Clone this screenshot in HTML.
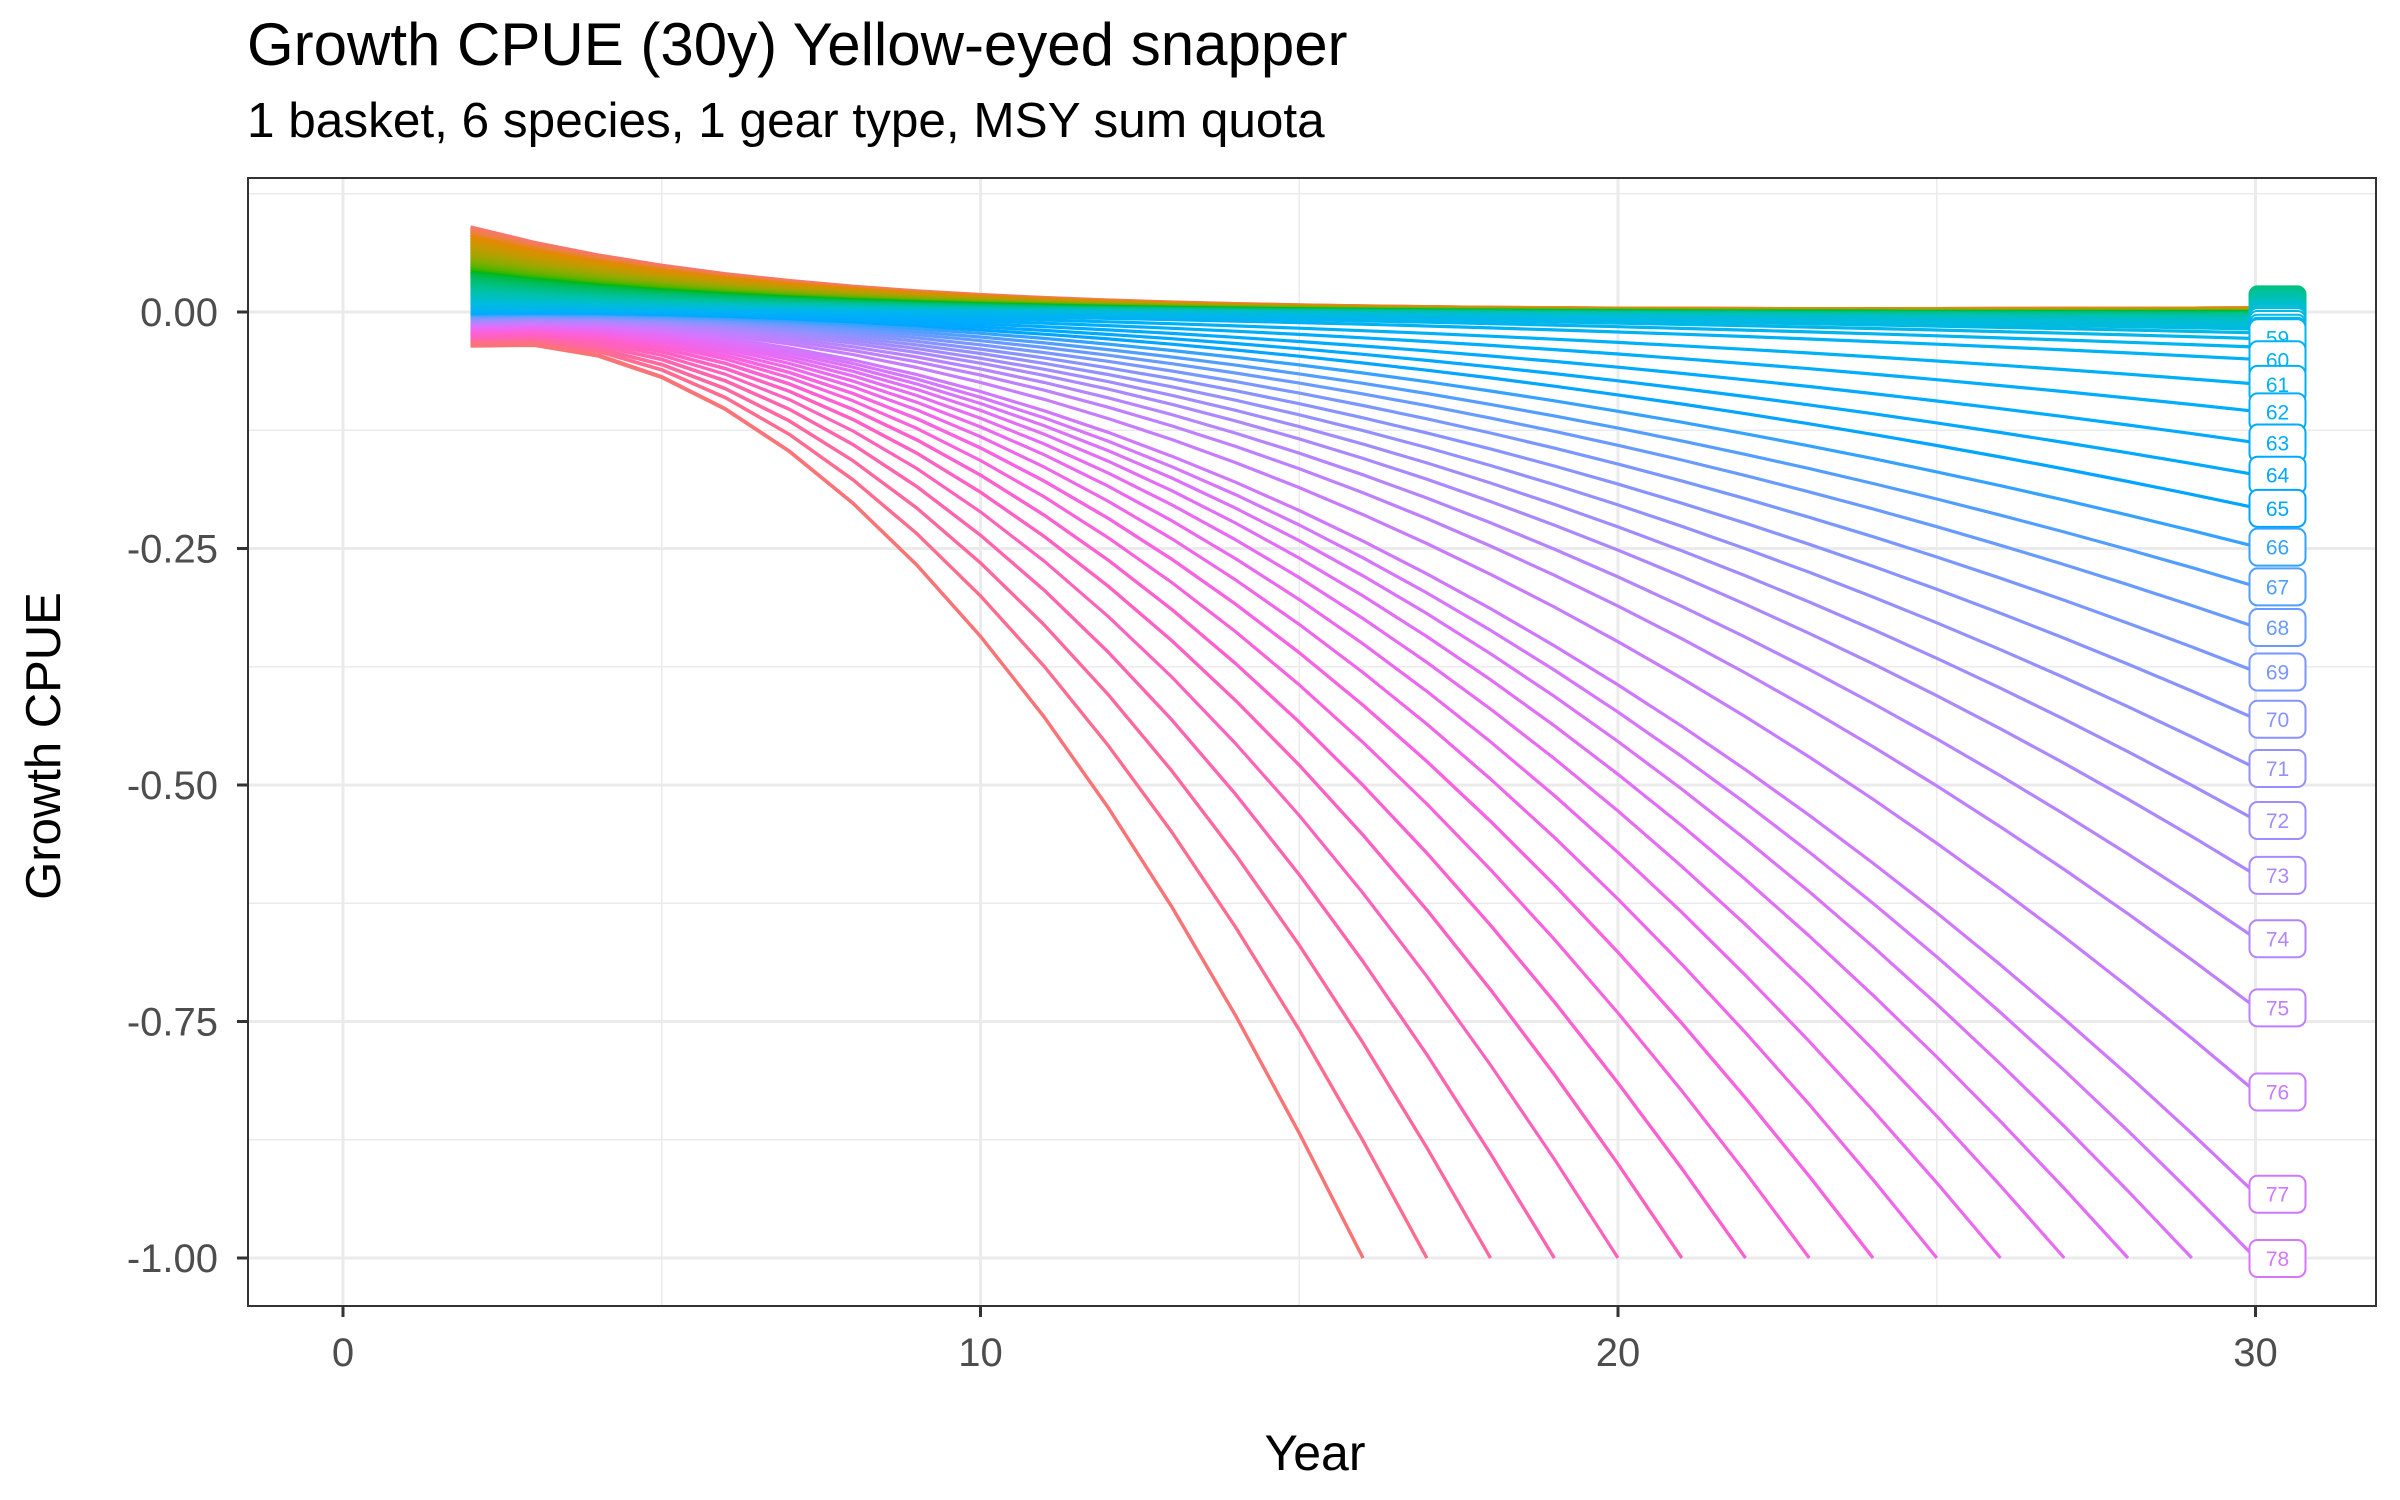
<!DOCTYPE html>
<html><head><meta charset="utf-8">
<style>
html,body{margin:0;padding:0;background:#fff;}
svg{display:block;font-family:"Liberation Sans",Arial,sans-serif;}
</style></head>
<body>
<svg id="chart" width="2400" height="1500" viewBox="0 0 2400 1500">
  <text x="247" y="65" font-size="60" fill="#000">Growth CPUE (30y) Yellow-eyed snapper</text>
  <text x="247" y="137" font-size="49.5" fill="#000">1 basket, 6 species, 1 gear type, MSY sum quota</text>
  <g id="grid"></g>
  <g id="lines"></g>
  <g id="labels"></g>
  <rect x="248" y="178" width="2128" height="1128" fill="none" stroke="#333" stroke-width="2"/>
  <g id="axes"></g>
  <text x="1315" y="1470" font-size="50" text-anchor="middle" fill="#000">Year</text>
  <text transform="translate(60,746) rotate(-90)" font-size="49" text-anchor="middle" fill="#000">Growth CPUE</text>
</svg>
<script>
const xTicks = [0, 10, 20, 30];
const xMinor = [5, 15, 25];
const yTicks = [0, -0.25, -0.5, -0.75, -1];
const yTickLabels = ["0.00", "-0.25", "-0.50", "-0.75", "-1.00"];
const yMinor = [0.125, -0.125, -0.375, -0.625, -0.875];
const startYear = 2;
const lastYear = 30;
const startVals = [
0.090,0.088,0.087,0.085,0.084,0.082,0.081,0.079,0.078,0.076,
0.075,0.073,0.072,0.070,0.069,0.067,0.066,0.064,0.063,0.061,
0.060,0.058,0.057,0.055,0.054,0.052,0.051,0.049,0.048,0.046,
0.045,0.043,0.042,0.040,0.039,0.037,0.036,0.034,0.033,0.031,
0.030,0.028,0.027,0.025,0.024,0.022,0.021,0.019,0.018,0.016,
0.015,0.013,0.012,0.010,0.009,0.007,0.006,0.004,0.003,0.000,
-0.001,-0.002,-0.003,-0.004,-0.005,-0.005,-0.006,-0.007,-0.008,-0.009,
-0.010,-0.011,-0.012,-0.013,-0.014,-0.014,-0.015,-0.016,-0.017,-0.018,
-0.019,-0.020,-0.021,-0.022,-0.023,-0.023,-0.024,-0.025,-0.026,-0.027,
-0.028,-0.029,-0.030,-0.031,-0.032,-0.032,-0.033,-0.034,-0.035,-0.036];
// value at year 30 for series 1..78
const endVals = [
0.004,0.004,0.004,0.004,0.004,0.004,0.003,0.003,0.003,0.003,
0.003,0.003,0.003,0.002,0.002,0.002,0.002,0.002,0.002,0.002,
0.001,0.001,0.001,0.001,0.001,0.001,0.001,0.000,0.000,0.000,
0.000,0.000,0.000,0.000,-0.001,-0.001,-0.001,-0.001,-0.002,-0.002,
-0.002,-0.003,-0.003,-0.004,-0.004,-0.005,-0.005,-0.006,-0.007,-0.008,
-0.009,-0.010,-0.011,-0.013,-0.015,-0.018,-0.022,-0.028,-0.037,-0.050,
-0.076,-0.105,-0.138,-0.172,-0.207,-0.248,-0.290,-0.333,-0.380,-0.430,
-0.482,-0.537,-0.595,-0.662,-0.735,-0.824,-0.932,-1.000];
// year each remaining series (79..100) reaches -1
const crashYears = [29,28,27,26,25,24,24,23,22,22,21,21,20,19,19,18,18,17,17,16,16,16];
const firstLabel = 41;
const nSeries = startVals.length;

const NS = "http://www.w3.org/2000/svg";
const X0 = 343, XS = 63.75, Y0 = 312, YS = 946;
const PL = 248, PR = 2376, PT = 178, PB = 1306;
const xScale = t => X0 + t * XS;
const yScale = v => Y0 - v * YS;

function hcl(h, c, l) {
  const hr = h * Math.PI / 180;
  const U = c * Math.cos(hr), V = c * Math.sin(hr);
  const Y = l > 8 ? Math.pow((l + 16) / 116, 3) : l / 903.3;
  const Xn = 95.047, Yn = 100, Zn = 108.883;
  const d = Xn + 15 * Yn + 3 * Zn;
  const un = 4 * Xn / d, vn = 9 * Yn / d;
  const up = U / (13 * l) + un, vp = V / (13 * l) + vn;
  const X = 9 * Y * up / (4 * vp);
  const Z = -X / 3 - 5 * Y + 3 * Y / vp;
  let r = 3.240479 * X - 1.53715 * Y - 0.498535 * Z;
  let g = -0.969256 * X + 1.875992 * Y + 0.041556 * Z;
  let b = 0.055648 * X - 0.204043 * Y + 1.057311 * Z;
  const gam = u => { u = u <= 0.0031308 ? 12.92 * u : 1.055 * Math.pow(u, 1 / 2.4) - 0.055; return Math.round(Math.max(0, Math.min(1, u)) * 255); };
  return `rgb(${gam(r)},${gam(g)},${gam(b)})`;
}
const colorOf = i => hcl(15 + 360 * i / nSeries, 100, 65);

function mk(tag, attrs, parent) {
  const el = document.createElementNS(NS, tag);
  for (const k in attrs) el.setAttribute(k, attrs[k]);
  parent.appendChild(el);
  return el;
}

const grid = document.getElementById('grid');
mk('rect', {x: PL, y: PT, width: PR - PL, height: PB - PT, fill: '#fff'}, grid);
xMinor.forEach(t => { const l = mk('line', {x1: xScale(t), x2: xScale(t), y1: PT, y2: PB, stroke: '#EBEBEB', 'stroke-width': 1.5}, grid);
  
   });
yMinor.forEach(v => { const l = mk('line', {x1: PL, x2: PR, y1: yScale(v), y2: yScale(v), stroke: '#EBEBEB', 'stroke-width': 1.5}, grid);
  
   });
xTicks.forEach(t => { const l = mk('line', {x1: xScale(t), x2: xScale(t), y1: PT, y2: PB, stroke: '#EBEBEB', 'stroke-width': 3}, grid);
  
   });
yTicks.forEach(v => { const l = mk('line', {x1: PL, x2: PR, y1: yScale(v), y2: yScale(v), stroke: '#EBEBEB', 'stroke-width': 3}, grid);
  
   });

function seriesPoints(i) {
  const s = startVals[i];
  let e, T;
  if (i < endVals.length) { e = endVals[i]; T = lastYear; }
  else { e = -1; T = crashYears[i - endVals.length]; }
  const pts = [];
  for (let t = startYear; t <= T; t++) {
    const f = (t - startYear) / (T - startYear);
    let v = s * Math.exp(-(t - startYear) / 5) + e * Math.pow(f, 1.95);
    if (t === T && e === -1) v = -1;
    v = Math.max(-1, v);
    pts.push([t, v]);
  }
  return pts;
}

const linesG = document.getElementById('lines');
const ends = [];
for (let i = 0; i < nSeries; i++) {
  const pts = seriesPoints(i);
  const d = pts.map((p, k) => (k ? 'L' : 'M') + xScale(p[0]).toFixed(1) + ',' + yScale(p[1]).toFixed(1)).join('');
  const p = mk('path', {d: d, fill: 'none', stroke: colorOf(i), 'stroke-width': 3.2, 'stroke-linejoin': 'round'}, linesG);
  
  
  if (i < endVals.length) ends.push(yScale(pts[pts.length - 1][1]));
}

const labG = document.getElementById('labels');
const ly = ends.slice();
for (let i = ly.length - 2; i >= 0; i--) {
  const gap = i >= 58 ? 22 : 1.5;
  ly[i] = Math.min(ly[i], ly[i + 1] - gap);
}
const lx = xScale(30) + 22;
for (let i = firstLabel - 1; i < ly.length; i++) {
  const g = mk('g', {}, labG);
  
  
  const c = colorOf(i);
  mk('rect', {x: lx - 28, y: ly[i] - 18, width: 56, height: 37, rx: 8, fill: '#fff', stroke: c, 'stroke-width': 2}, g);
  const t = mk('text', {x: lx, y: ly[i] + 8, 'font-size': 21, 'text-anchor': 'middle', fill: c}, g);
  t.textContent = String(i + 1);
}

const axes = document.getElementById('axes');
xTicks.forEach(t => {
  const l = mk('line', {x1: xScale(t), x2: xScale(t), y1: PB, y2: PB + 11, stroke: '#333', 'stroke-width': 3}, axes);
  
  
  const tx = mk('text', {x: xScale(t), y: PB + 60, 'font-size': 40, 'text-anchor': 'middle', fill: '#4D4D4D'}, axes);
  
  
  tx.textContent = String(t);
});
yTicks.forEach((v, k) => {
  const l = mk('line', {x1: PL - 11, x2: PL, y1: yScale(v), y2: yScale(v), stroke: '#333', 'stroke-width': 3}, axes);
  
  
  const tx = mk('text', {x: PL - 30, y: yScale(v) + 14, 'font-size': 40, 'text-anchor': 'end', fill: '#4D4D4D'}, axes);
  
  
  tx.textContent = yTickLabels[k];
});
</script>
</body></html>
